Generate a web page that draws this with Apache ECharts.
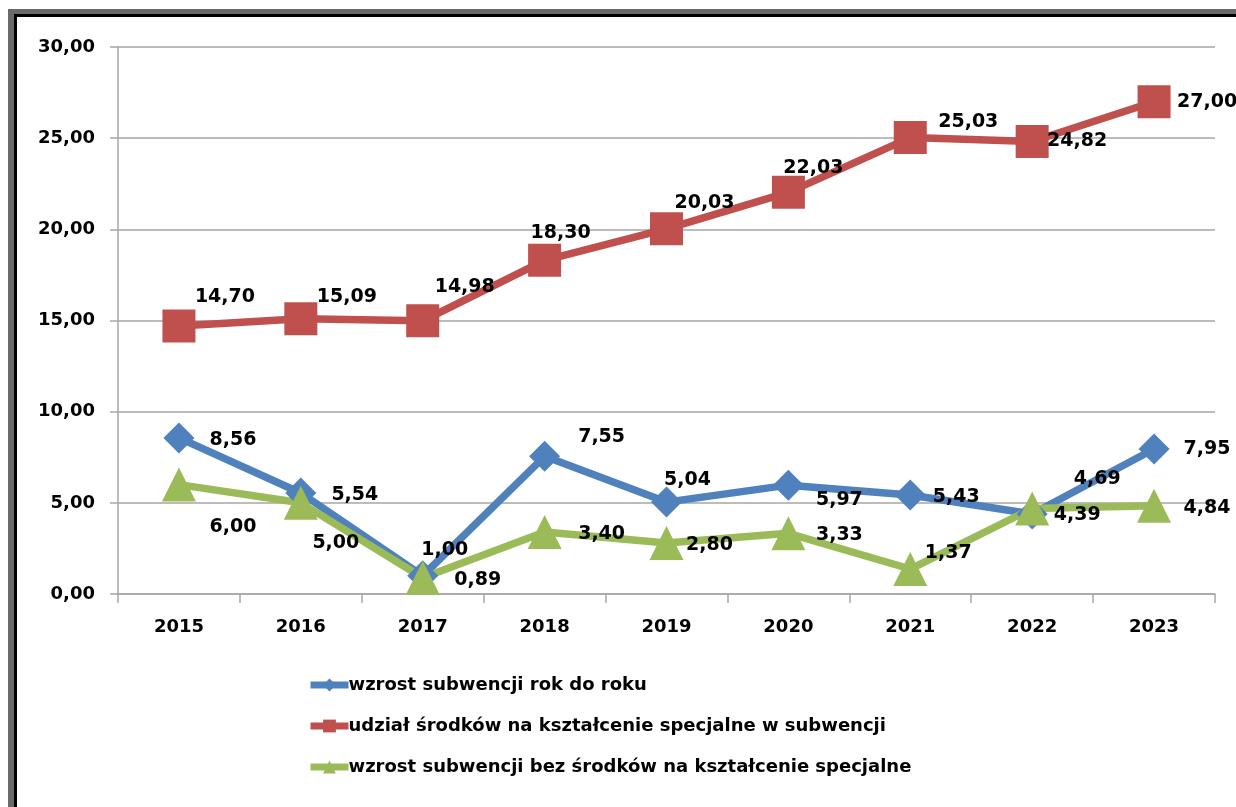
<!DOCTYPE html>
<html>
<head>
<meta charset="utf-8">
<script src="https://cdn.jsdelivr.net/npm/echarts@6/dist/echarts.min.js"></script>
<style>
  html, body { margin: 0; padding: 0; background: #fff; overflow: hidden; width: 1236px; height: 807px; }
  .bar { position: absolute; }
  #topGray { left: 8px; top: 9px; width: 1228px; height: 5px; background: #6a6a6a; }
  #topBlack { left: 14px; top: 14px; width: 1222px; height: 3px; background: #000; }
  #leftGray { left: 8px; top: 9px; width: 6px; height: 798px; background: #6a6a6a; }
  #leftBlack { left: 14px; top: 14px; width: 3px; height: 793px; background: #000; }
  #chart { position: absolute; left: 0; top: 0; width: 1236px; height: 807px; }
</style>
</head>
<body>
<div class="bar" id="topGray"></div>
<div class="bar" id="leftGray"></div>
<div class="bar" id="topBlack"></div>
<div class="bar" id="leftBlack"></div>
<div id="chart"></div>
<script>
var years = ['2015', '2016', '2017', '2018', '2019', '2020', '2021', '2022', '2023']
var yTicks = [0, 5, 10, 15, 20, 25, 30]
var wzrost = [8.56, 5.54, 1.00, 7.55, 5.04, 5.97, 5.43, 4.39, 7.95]
var udzial = [14.70, 15.09, 14.98, 18.30, 20.03, 22.03, 25.03, 24.82, 27.00]
var wzrostBez = [6.00, 5.00, 0.89, 3.40, 2.80, 3.33, 1.37, 4.69, 4.84]
var names = [
  'wzrost subwencji rok do roku',
  'udział środków na kształcenie specjalne w subwencji',
  'wzrost subwencji bez środków na kształcenie specjalne'
]

// label offsets (px) from each marker, as placed in the original
var offBlue = [[54, 2], [54, 2], [22, -26], [57, -19], [21, -22], [51, 15], [46, 2], [45, 1], [53, 0]]
var offRed = [[46, -29], [46, -22], [42, -34], [16, -27], [38, -26], [25, -24], [58, -16], [45, 0], [53, 0]]
var offGreen = [[54, 42], [35, 40], [55, 2], [57, 2], [43, 2], [51, 2], [38, -16], [65, -29], [53, 2]]

var font = 'DejaVu Sans'
function fmt(v) { return v.toFixed(2).replace('.', ',') }

function makeData(vals, offs) {
  return vals.map(function(v, i) {
    return {
      value: v,
      label: { offset: offs[i] }
    }
  })
}

function makeSeries(name, vals, offs, color, symbol, size) {
  return {
    name: name,
    type: 'line',
    data: makeData(vals, offs),
    symbol: symbol,
    symbolSize: size,
    showAllSymbol: true,
    z: 2,
    lineStyle: { color: color, width: 7.5 },
    itemStyle: { color: color },
    emphasis: { disabled: true },
    label: {
      show: true,
      position: 'inside',
      color: '#000',
      fontFamily: font,
      fontWeight: 'bold',
      fontSize: 19,
      formatter: function(p) { return fmt(p.value) }
    }
  }
}

var chart = echarts.init(document.getElementById('chart'))
chart.setOption({
  animation: false,
  grid: { left: 118, right: 21, top: 47, bottom: 213, containLabel: false },
  legend: {
    orient: 'vertical',
    left: 302,
    top: 671,
    itemGap: 23,
    itemWidth: 38,
    itemHeight: 16,
    lineStyle: { width: 7 },
    data: names,
    textStyle: { fontFamily: font, fontWeight: 'bold', fontSize: 18, color: '#000', padding: [0, 0, 0, -5] }
  },
  xAxis: {
    type: 'category',
    data: years,
    boundaryGap: true,
    axisLine: { lineStyle: { color: '#a6a6a6', width: 1.5 } },
    axisTick: { show: true, length: 9, lineStyle: { color: '#a6a6a6', width: 1.5 } },
    axisLabel: { margin: 24, color: '#000', fontFamily: font, fontWeight: 'bold', fontSize: 18 }
  },
  yAxis: {
    type: 'value',
    min: yTicks[0],
    max: yTicks[yTicks.length - 1],
    interval: 5,
    axisLine: { show: true, lineStyle: { color: '#a6a6a6', width: 1.5 } },
    axisTick: { show: true, length: 8, lineStyle: { color: '#a6a6a6', width: 1.5 } },
    splitLine: { lineStyle: { color: '#a6a6a6', width: 1.5 } },
    axisLabel: { margin: 23, color: '#000', fontFamily: font, fontWeight: 'bold', fontSize: 18,
      formatter: function(v) { return fmt(v) } }
  },
  series: [
    makeSeries(names[0], wzrost, offBlue, '#4f81bd', 'diamond', 31),
    makeSeries(names[1], udzial, offRed, '#c0504d', 'rect', 33),
    makeSeries(names[2], wzrostBez, offGreen, '#9bbb59', 'triangle', 34)
  ]
})
</script>
</body>
</html>
